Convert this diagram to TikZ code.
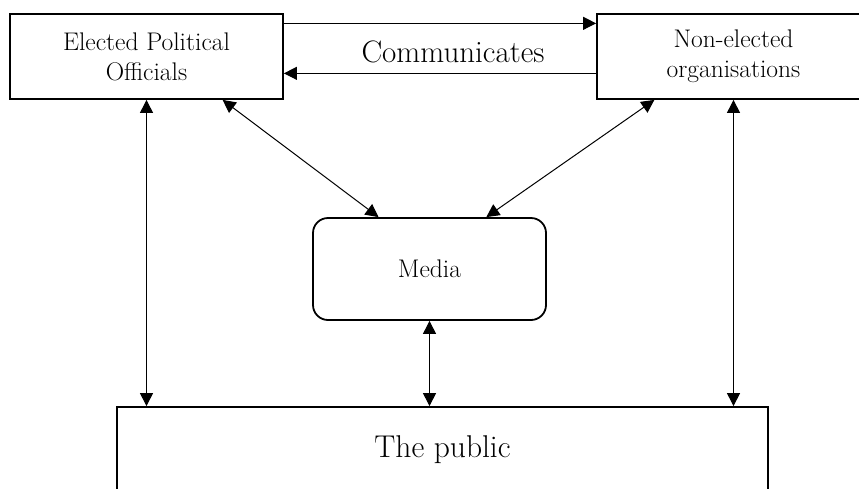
\documentclass[tikz,border=0pt]{standalone}
\usepackage{fontspec}
\usetikzlibrary{arrows.meta,calc}
\begin{document}
\begin{tikzpicture}[x=1pt,y=-1pt,
  box/.style={draw,line width=1.8pt,minimum width=273pt,minimum height=85pt,align=center,inner sep=0pt,font=\fontsize{25.5}{30}\selectfont},
  link/.style={line width=1pt,{Triangle[length=13pt,width=13pt]}-{Triangle[length=13pt,width=13pt]}},
  one/.style={line width=1pt,-{Triangle[length=13pt,width=13pt]}}]
\useasboundingbox (0,0) rectangle (859,488);
\clip (0,0) rectangle (859,488);
\fill[white] (0,0) rectangle (859,488);
\node[box] (epo) at (146.5,56.5) {Elected Political\\Officials};
\node[box] (neo) at (733.5,56.5) {Non-elected\\organisations};
\node[box,minimum width=233pt,minimum height=102pt,rounded corners=15pt] (media) at (429.5,269) {Media};
\node[box,minimum width=651pt,minimum height=86pt,font=\fontsize{31.5}{34}\selectfont] (public) at (442.5,450) {The public};
\node[font=\fontsize{31}{34}\selectfont,anchor=base,inner sep=0pt] (comm) at (453,62) {Communicates};
% communicates arrows
\draw[one] ($(epo.north east)!0.118!(epo.south east)$) -- ($(neo.north west)!0.118!(neo.south west)$);
\draw[one] ($(neo.north west)!0.694!(neo.south west)$) -- ($(epo.north east)!0.694!(epo.south east)$);
% diagonals
\draw[link] ($(epo.south west)!0.777!(epo.south east)$) -- ($(media.north west)!0.283!(media.north east)$);
\draw[link] ($(neo.south west)!0.212!(neo.south east)$) -- ($(media.north west)!0.742!(media.north east)$);
% verticals
\draw[link] (epo.south) -- (epo.south |- public.north);
\draw[link] (neo.south) -- (neo.south |- public.north);
\draw[link] (media.south) -- (media.south |- public.north);
\end{tikzpicture}
\end{document}
